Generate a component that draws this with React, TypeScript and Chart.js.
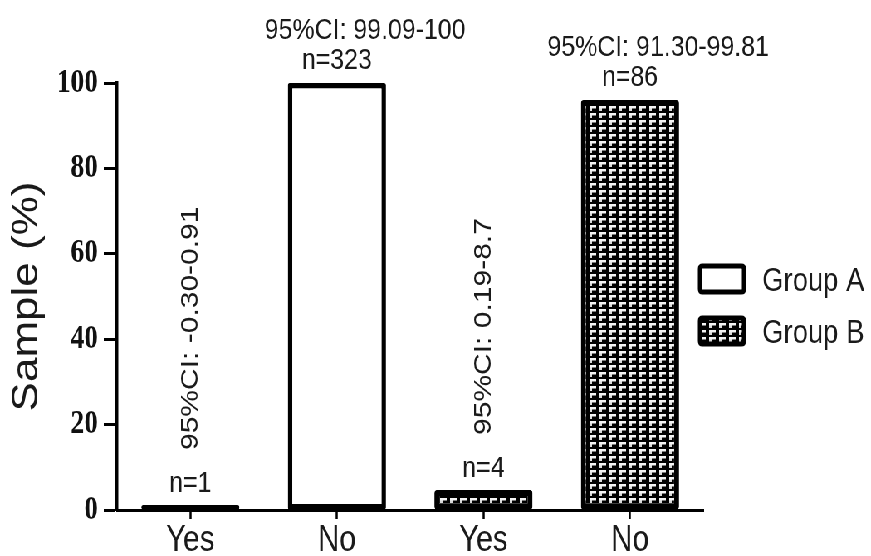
import React, { useEffect, useRef } from "react";
import { Chart, registerables } from "chart.js";
Chart.register(...registerables);

const categories = ["Yes", "No", "Yes", "No"];
const groupA = [0.31, 100, null, null];
const groupB = [null, null, 4.7, 96];
const groupNames = ["Group A", "Group B"];
const ciLabels = ["95%CI: -0.30-0.91", "95%CI: 99.09-100", "95%CI: 0.19-8.7", "95%CI: 91.30-99.81"];
const nLabels = ["n=1", "n=323", "n=4", "n=86"];
const yTicks = [0, 20, 40, 60, 80, 100];

const W = 1049;
const H = 556;
const SX = 871 / W;
const FONT = "'Liberation Sans', Arial, sans-serif";
const SERIF = "'Liberation Serif', 'Times New Roman', serif";
const TEXT = "#1a1a1a";

function makePattern(ctx: CanvasRenderingContext2D) {
  const c = document.createElement("canvas");
  c.width = 12;
  c.height = 7;
  const p = c.getContext("2d")!;
  p.fillStyle = "#000";
  p.fillRect(0, 0, 12, 7);
  p.fillStyle = "#d8d8d8";
  p.fillRect(2, 1, 3, 5);
  p.fillStyle = "#f4f4f4";
  p.fillRect(2, 1, 8, 2.5);
  return ctx.createPattern(c, "repeat");
}

function roundRect(ctx: CanvasRenderingContext2D, x: number, y: number, w: number, h: number, r: number) {
  ctx.beginPath();
  ctx.moveTo(x + r, y);
  ctx.lineTo(x + w - r, y);
  ctx.quadraticCurveTo(x + w, y, x + w, y + r);
  ctx.lineTo(x + w, y + h - r);
  ctx.quadraticCurveTo(x + w, y + h, x + w - r, y + h);
  ctx.lineTo(x + r, y + h);
  ctx.quadraticCurveTo(x, y + h, x, y + h - r);
  ctx.lineTo(x, y + r);
  ctx.quadraticCurveTo(x, y, x + r, y);
  ctx.closePath();
}

const annotPlugin = {
  id: "annot",
  afterDatasetsDraw(chart: any) {
    const ctx: CanvasRenderingContext2D = chart.ctx;
    ctx.save();
    ctx.fillStyle = TEXT;
    ctx.font = `30px ${FONT}`;
    categories.forEach((_, i) => {
      let el: any = null;
      let v: number | null = null;
      chart.data.datasets.forEach((ds: any, d: number) => {
        const val = ds.data[i];
        if (val != null) {
          el = chart.getDatasetMeta(d).data[i];
          v = val;
        }
      });
      if (!el || v == null) return;
      const x = el.x;
      const y = el.y;
      ctx.textAlign = "center";
      ctx.textBaseline = "alphabetic";
      if ((v as number) < 50) {
        ctx.fillText(nLabels[i], x, y - 13);
        ctx.save();
        ctx.translate(x, y - 55);
        ctx.rotate(-Math.PI / 2);
        ctx.textAlign = "left";
        ctx.textBaseline = "middle";
        ctx.fillText(ciLabels[i], 0, 0);
        ctx.restore();
      } else {
        ctx.fillText(nLabels[i], x, y - 14);
        ctx.fillText(ciLabels[i], x + 34, y - 44);
      }
    });
    ctx.restore();
  },
  afterDraw(chart: any) {
    const ctx: CanvasRenderingContext2D = chart.ctx;
    const area = chart.chartArea;
    const boxX = area.right - 4;
    const boxW = 53;
    const boxH = 26;
    const centers = [area.top + 196, area.top + 248];
    ctx.save();
    groupNames.forEach((name, d) => {
      const ds = chart.data.datasets[d];
      const cy = centers[d];
      roundRect(ctx, boxX, cy - boxH / 2, boxW, boxH, 3);
      ctx.fillStyle = ds.backgroundColor;
      ctx.fill();
      ctx.lineWidth = 5;
      ctx.strokeStyle = "#000";
      ctx.stroke();
      ctx.fillStyle = TEXT;
      ctx.font = `33px ${FONT}`;
      ctx.textAlign = "left";
      ctx.textBaseline = "alphabetic";
      ctx.fillText(name, boxX + 75, cy + 12);
    });
    ctx.restore();
  },
};

export default function App() {
  const ref = useRef<HTMLCanvasElement>(null);
  useEffect(() => {
    const canvas = ref.current!;
    const ctx = canvas.getContext("2d")!;
    const pattern = makePattern(ctx);
    Chart.defaults.font.family = FONT;
    const chart = new Chart(ctx, {
      type: "bar",
      data: {
        labels: categories,
        datasets: [
          {
            label: groupNames[0],
            data: groupA,
            backgroundColor: "#ffffff",
            borderColor: "#000000",
            borderWidth: 5.5,
            borderSkipped: false,
            borderRadius: 2,
            minBarLength: 5,
            grouped: false,
            barPercentage: 0.67,
            categoryPercentage: 1,
          } as any,
          {
            label: groupNames[1],
            data: groupB,
            backgroundColor: pattern as any,
            borderColor: "#000000",
            borderWidth: 6,
            borderSkipped: false,
            borderRadius: 3,
            grouped: false,
            barPercentage: 0.67,
            categoryPercentage: 1,
          } as any,
        ],
      },
      options: {
        animation: false,
        responsive: false,
        layout: { padding: { left: 0, right: W - 847, top: 83, bottom: 0 } },
        plugins: { legend: { display: false }, tooltip: { enabled: false } },
        scales: {
          x: {
            grid: { drawOnChartArea: false, offset: false, tickLength: 9, tickWidth: 2.5, tickColor: "#000", color: "#000" },
            border: { color: "#000", width: 3, z: 1 } as any,
            ticks: { color: TEXT, font: { family: FONT, size: 36 }, padding: 0, maxRotation: 0, autoSkip: false },
            afterFit: (s: any) => {
              s.height = 46;
            },
          },
          y: {
            min: 0,
            max: 100,
            afterBuildTicks: (s: any) => {
              s.ticks = yTicks.map((v) => ({ value: v }));
            },
            ticks: { color: "#111", font: { family: SERIF, size: 33, weight: "bold" }, padding: 7 },
            grid: { drawOnChartArea: false, tickLength: 16, tickWidth: 3, tickColor: "#000", color: "#000" },
            border: { color: "#000", width: 3.5 },
            title: {
              display: true,
              text: "Sample (%)",
              color: TEXT,
              font: { family: FONT, size: 44 },
              padding: { top: 6, bottom: 0 },
            },
            afterFit: (s: any) => {
              s.width = 141;
            },
          },
        },
      },
      plugins: [annotPlugin],
    } as any);
    return () => chart.destroy();
  }, []);
  return (
    <div
      style={{
        position: "fixed",
        left: 0,
        top: 0,
        width: W,
        height: H,
        transform: `scaleX(${SX})`,
        transformOrigin: "0 0",
        background: "#fff",
      }}
    >
      <canvas ref={ref} width={W} height={H} style={{ width: W, height: H, display: "block" }} />
    </div>
  );
}
